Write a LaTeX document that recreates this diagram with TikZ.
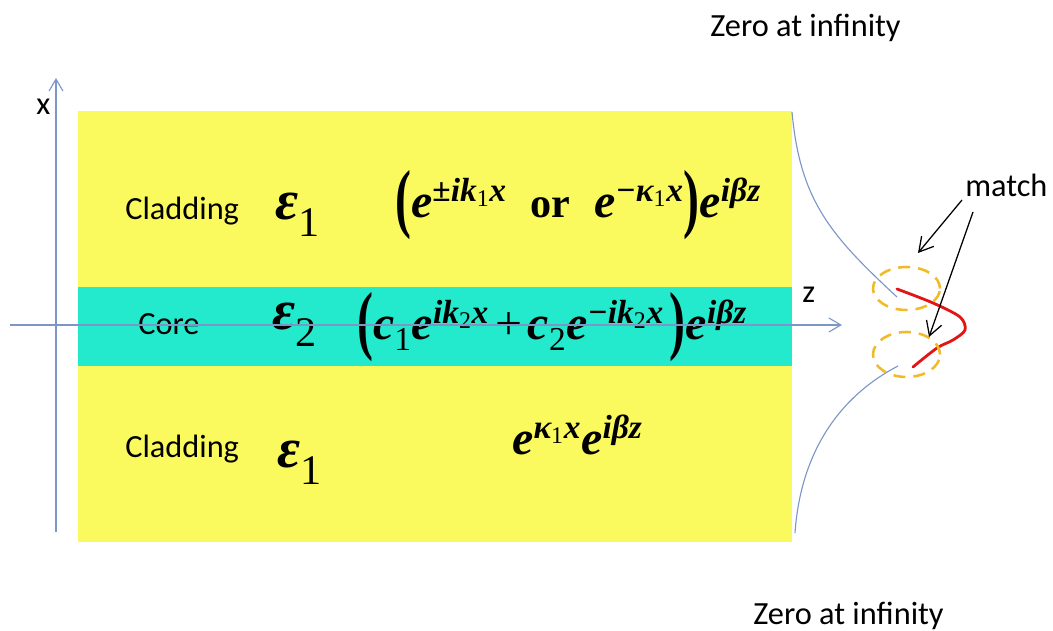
\documentclass[tikz,border=0pt]{standalone}
\usepackage{amsmath}
\usepackage{graphicx}
\usepackage{fontspec}
\newfontfamily\labelfont{Carlito}
\newfontfamily\eqfont{Liberation Serif}
\usetikzlibrary{arrows.meta}

\definecolor{cladyellow}{RGB}{250,250,95}
\definecolor{corecyan}{RGB}{36,234,205}
\definecolor{axisblue}{RGB}{125,150,200}
\definecolor{fieldred}{RGB}{228,20,20}
\definecolor{matchgold}{RGB}{240,186,40}

\newcommand{\tv}[1]{\text{#1}}
\newcommand{\tn}[1]{\text{\upshape\mdseries #1}}
\newcommand{\up}[1]{^{\raisebox{3pt}{$\scriptstyle #1$}}}
\newcommand{\bigp}[1]{\raisebox{-4pt}{\scalebox{1}[1.6]{\upshape #1}}}
\newcommand{\epsn}[1]{{\fontsize{40}{44}\selectfont ε}\raisebox{-12pt}{\fontsize{30}{34}\selectfont\upshape\mdseries #1}}

\tikzset{
  sanstext/.style={font=\labelfont\fontsize{23}{28}\selectfont, inner sep=0pt, anchor=base west},
  formula/.style={font=\eqfont\bfseries\itshape\fontsize{34}{40}\selectfont, inner sep=0pt, anchor=base west},
  axis line/.style={axisblue, line width=0.8pt, -{Straight Barb[length=3mm,width=3.5mm]}},
  decay line/.style={axisblue, line width=0.8pt},
  match ring/.style={matchgold, line width=1.8pt, dash pattern=on 0.3cm off 0.2cm},
  match arrow/.style={black, line width=0.9pt, -{Straight Barb[length=3.5mm,width=4mm]}}
}

\begin{document}
\begin{tikzpicture}[scale=1.0]
  \useasboundingbox (0,0) rectangle (26.325,15.775);

  % Layers: cladding (yellow) and core (cyan)
  \fill[cladyellow] (1.95,2.225) rectangle (19.8,13.0);
  \fill[corecyan] (1.95,6.625) rectangle (19.8,8.6);

  % Layer names
  \node[sanstext] (cladtop) at (3.125,10.275) {Cladding};
  \node[sanstext] (core) at (3.45,7.4) {Core};
  \node[sanstext] (cladbot) at (3.125,4.325) {Cladding};

  % Permittivities
  \node[formula] (epstop) at (6.875,10.275) {\epsn{1}};
  \node[formula] (epscore) at (6.8,7.525) {\epsn{2}};
  \node[formula] (epsbot) at (6.925,4.075) {\epsn{1}};

  % Field profiles in each layer
  \node[formula] (fieldtop) at (9.875,10.325)
    {$\bigp{(}\tv{e}\up{\tv{±ik}_{\tn{1}}\tv{x}}\ \ \tv{\fontsize{30}{34}\selectfont\upshape or}\ \ \tv{e}\up{\tv{−κ}_{\tn{1}}\tv{x}}\bigp{)}\tv{e}\up{\tv{iβz}}$};
  \node[formula] (fieldcore) at (8.925,7.275)
    {$\bigp{(}\tv{c}_{\tn{1}}\tv{e}\up{\tv{ik}_{\tn{2}}\tv{x}}\,\tn{+}\,\tv{c}_{\tn{2}}\tv{e}\up{\tv{−ik}_{\tn{2}}\tv{x}}\,\bigp{)}\tv{e}\up{\tv{iβz}}$};
  \node[formula] (fieldbot) at (12.8,4.4)
    {$\tv{e}\up{\tv{κ}_{\tn{1}}\tv{x}}\tv{e}\up{\tv{iβz}}$};

  % Axes
  \coordinate (xfoot) at (1.4,2.475);
  \coordinate (xtip) at (1.4,13.825);
  \coordinate (zstart) at (0.25,7.65);
  \coordinate (ztip) at (21.05,7.65);
  \draw[axis line] (xfoot) -- (xtip);
  \draw[axis line] (zstart) -- (ztip);
  \node[sanstext] (xlabel) at (0.9,12.9) {x};
  \node[sanstext] (zlabel) at (20.05,8.2) {z};

  % Mode profile: evanescent tails and oscillating core part
  \draw[decay line] (19.8,12.975) .. controls (20.0,10.775) and (20.75,9.9) .. (22.425,8.35);
  \draw[decay line] (22.45,6.625) .. controls (20.825,5.775) and (20.0,4.275) .. (19.875,2.45);
  \draw[fieldred, line width=2pt, line cap=round] plot[smooth] coordinates
    {(22.425,8.55) (23.325,8.2) (24.0,7.85) (24.125,7.525) (23.825,7.275) (23.425,7.075) (22.825,6.6)};

  % Matching regions
  \draw[match ring] (22.6625,8.5625) ellipse (0.8375 and 0.5375);
  \draw[match ring] (22.6625,6.9125) ellipse (0.8375 and 0.5625);
  \node[sanstext] (match) at (24.125,10.85) {match};
  \coordinate (ringtop) at (22.95,9.45);
  \coordinate (ringbot) at (23.225,7.35);
  \draw[match arrow] (24.05,10.775) -- (ringtop);
  \draw[match arrow] (24.325,10.475) -- (ringbot);

  % Boundary conditions
  \node[sanstext] (zerotop) at (17.75,14.85) {Zero at infinity};
  \node[sanstext] (zerobot) at (18.825,0.15) {Zero at infinity};

\end{tikzpicture}
\end{document}
